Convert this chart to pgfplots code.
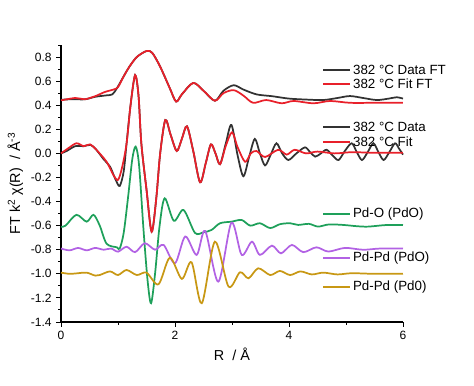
\documentclass[border=0pt]{standalone}
\usepackage{pgfplots}
\pgfplotsset{compat=1.18}
\usepackage{fontspec}
\setmainfont{Liberation Sans}
\definecolor{cblk}{RGB}{50,50,50}
\definecolor{cred}{RGB}{232,32,42}
\definecolor{cgrn}{RGB}{30,160,90}
\definecolor{cpur}{RGB}{178,98,228}
\definecolor{cyel}{RGB}{200,152,20}
\begin{document}
\begin{tikzpicture}
\useasboundingbox (-45.75pt,-47.25pt) rectangle (309.75pt,241.5pt);
\begin{axis}[
  scale only axis, width=256.5pt, height=207.75pt,
  at={(0,0)}, anchor=south west,
  xmin=0, xmax=6, ymin=-1.4, ymax=0.9,
  axis lines=left, axis line style={-, line width=0.8pt},
  tick align=outside, tick style={line width=0.7pt, black},
  major tick length=3.5pt, minor tick length=2pt,
  xtick={0,2,4,6}, minor xtick={1,3,5},
  ytick={-1.4,-1.2,...,0.8}, minor ytick={-1.3,-1.1,...,0.9},
  /pgf/number format/assume math mode=true,
  yticklabel style={/pgf/number format/.cd, fixed, fixed zerofill, precision=1},
  xticklabel style={/pgf/number format/.cd, fixed, precision=0},
  ticklabel style={font=\fontsize{9}{10}\selectfont},
  xlabel={R\ \ / Å}, ylabel={FT k\textsuperscript{2} χ(R)\ \ / Å\textsuperscript{-3}},
  label style={font=\fontsize{10.8}{12}\selectfont},
  xlabel style={yshift=1pt},
  ylabel style={yshift=-1pt},
  every axis plot/.append style={smooth, line width=1.3pt, no markers},
  clip=false,
]
% green Pd-O (PdO)
\addplot[cgrn] coordinates {
(0,-0.61)(0.08,-0.60)(0.27,-0.51)(0.45,-0.567)(0.57,-0.51)(0.68,-0.60)(0.8,-0.75)(0.98,-0.78)(1.03,-0.79)
(1.1,-0.66)(1.18,-0.35)(1.25,-0.05)(1.31,0.056)(1.37,-0.1)(1.45,-0.65)(1.52,-1.06)(1.58,-1.244)(1.65,-1.0)
(1.73,-0.6)(1.82,-0.373)(1.98,-0.56)(2.15,-0.47)(2.35,-0.66)(2.5,-0.655)(2.64,-0.636)(2.79,-0.58)(2.99,-0.567)
(3.17,-0.553)(3.32,-0.60)(3.49,-0.58)(3.67,-0.62)(3.84,-0.588)(4.02,-0.58)(4.16,-0.594)(4.35,-0.585)(4.51,-0.608)
(4.7,-0.59)(4.95,-0.594)(5.2,-0.605)(5.39,-0.608)(5.7,-0.595)(6,-0.594)};
% purple Pd-Pd (PdO)
\addplot[cpur] coordinates {
(0,-0.79)(0.15,-0.805)(0.3,-0.785)(0.45,-0.805)(0.6,-0.785)(0.75,-0.80)(0.88,-0.79)(1.0,-0.816)(1.15,-0.775)
(1.3,-0.82)(1.47,-0.746)(1.65,-0.80)(1.80,-0.76)(2.0,-0.912)(2.18,-0.69)(2.38,-0.843)(2.53,-0.645)(2.76,-1.065)
(2.99,-0.575)(3.17,-0.843)(3.35,-0.733)(3.49,-0.843)(3.70,-0.766)(3.86,-0.83)(4.05,-0.76)(4.25,-0.82)(4.48,-0.78)
(4.69,-0.815)(4.98,-0.785)(5.3,-0.80)(5.6,-0.79)(6,-0.79)};
% yellow Pd-Pd (Pd0)
\addplot[cyel] coordinates {
(0,-0.99)(0.15,-1.0)(0.3,-0.995)(0.45,-0.99)(0.6,-1.015)(0.68,-1.01)(0.86,-0.98)(1.0,-1.01)(1.15,-0.968)
(1.33,-1.01)(1.5,-0.99)(1.71,-1.087)(1.91,-0.866)(2.12,-1.042)(2.29,-0.904)(2.47,-1.244)(2.70,-0.733)(2.94,-1.106)
(3.14,-0.987)(3.29,-1.037)(3.46,-0.954)(3.67,-1.01)(3.84,-0.976)(4.02,-1.01)(4.2,-0.98)(4.4,-1.005)(4.6,-0.99)
(4.85,-1.005)(5.1,-0.995)(5.5,-1.0)(6,-1.0)};
% chi data (black)
\addplot[cblk] coordinates {
(0,0.0)(0.1,0.02)(0.25,0.06)(0.4,0.06)(0.52,0.07)(0.62,0.03)(0.75,-0.05)(0.86,-0.11)(0.96,-0.22)(1.03,-0.27)
(1.1,-0.15)(1.15,0.08)(1.22,0.40)(1.30,0.65)(1.36,0.48)(1.41,0.08)(1.5,-0.30)(1.59,-0.65)(1.67,-0.38)(1.74,0.0)
(1.83,0.277)(1.92,0.16)(2.03,0.02)(2.12,0.12)(2.21,0.225)(2.32,0.02)(2.44,-0.24)(2.54,-0.08)(2.63,0.075)(2.71,0.0)
(2.79,-0.09)(2.89,0.08)(2.99,0.236)(3.1,-0.02)(3.2,-0.19)(3.3,-0.03)(3.4,0.12)(3.49,0.0)(3.58,-0.10)(3.68,-0.01)
(3.78,0.084)(3.88,0.0)(3.99,-0.055)(4.13,0.0)(4.28,0.05)(4.37,0.01)(4.46,-0.027)(4.56,0.0)(4.66,0.03)(4.77,-0.02)
(4.87,-0.055)(4.98,0.02)(5.1,0.084)(5.19,0.01)(5.28,-0.055)(5.38,0.01)(5.48,0.084)(5.57,0.01)(5.66,-0.055)
(5.76,0.01)(5.86,0.084)(5.93,0.04)(6.0,-0.01)};
% chi fit (red)
\addplot[cred] coordinates {
(0,0.0)(0.12,0.04)(0.27,0.084)(0.4,0.06)(0.51,0.075)(0.62,0.03)(0.8,-0.07)(0.92,-0.18)(1.0,-0.22)(1.07,-0.12)
(1.15,0.08)(1.22,0.40)(1.30,0.65)(1.36,0.48)(1.41,0.08)(1.5,-0.30)(1.59,-0.65)(1.67,-0.38)(1.74,0.0)
(1.83,0.277)(1.92,0.16)(2.03,0.02)(2.12,0.12)(2.21,0.225)(2.32,0.02)(2.44,-0.24)(2.54,-0.08)(2.63,0.075)(2.71,0.0)
(2.79,-0.09)(2.89,0.06)(3.0,0.175)(3.1,0.05)(3.23,-0.07)(3.33,0.0)(3.43,0.02)(3.58,-0.03)(3.81,0.03)(3.96,-0.01)
(4.1,0.03)(4.3,0.0)(4.5,0.015)(4.8,0.0)(5.1,0.01)(5.5,0.005)(6,0.005)};
% FT magnitude data (black)
\addplot[cblk] coordinates {
(0,0.445)(0.2,0.45)(0.42,0.449)(0.6,0.47)(0.8,0.482)(0.9,0.49)(0.98,0.54)(1.1,0.64)(1.2,0.72)(1.33,0.80)(1.5,0.85)
(1.6,0.835)(1.74,0.72)(1.91,0.54)(2.02,0.43)(2.12,0.49)(2.32,0.585)(2.5,0.52)(2.70,0.437)(2.85,0.52)(3.03,0.566)
(3.2,0.53)(3.43,0.49)(3.7,0.475)(4.0,0.455)(4.3,0.447)(4.6,0.443)(4.85,0.46)(5.07,0.476)(5.3,0.46)(5.54,0.443)
(5.75,0.455)(5.89,0.466)(6.0,0.455)};
% FT magnitude fit (red)
\addplot[cred] coordinates {
(0,0.44)(0.25,0.46)(0.42,0.45)(0.6,0.475)(0.77,0.51)(0.92,0.53)(1.0,0.55)(1.1,0.64)(1.2,0.72)(1.33,0.80)(1.5,0.85)
(1.6,0.835)(1.74,0.72)(1.91,0.54)(2.02,0.43)(2.12,0.49)(2.32,0.585)(2.5,0.52)(2.70,0.437)(2.85,0.50)(3.03,0.525)
(3.2,0.48)(3.37,0.42)(3.6,0.443)(3.87,0.416)(4.08,0.435)(4.43,0.416)(4.72,0.435)(5.07,0.42)(5.5,0.42)(6,0.42)};
% legend-like labels
\def\lg#1#2#3{\draw[#1, line width=1.3pt] (axis cs:4.6,#2) -- (axis cs:5.07,#2);
  \node[anchor=west, inner sep=0pt, font=\fontsize{10}{12}\selectfont] at (axis cs:5.12,#2) {#3};}
\lg{cblk}{0.692}{382 °C Data FT}
\lg{cred}{0.576}{382 °C Fit FT}
\lg{cblk}{0.219}{382 °C Data}
\lg{cred}{0.095}{382 °C Fit}
\lg{cgrn}{-0.503}{Pd-O (PdO)}
\lg{cpur}{-0.868}{Pd-Pd (PdO)}
\lg{cyel}{-1.109}{Pd-Pd (Pd0)}
\end{axis}
\end{tikzpicture}
\end{document}
